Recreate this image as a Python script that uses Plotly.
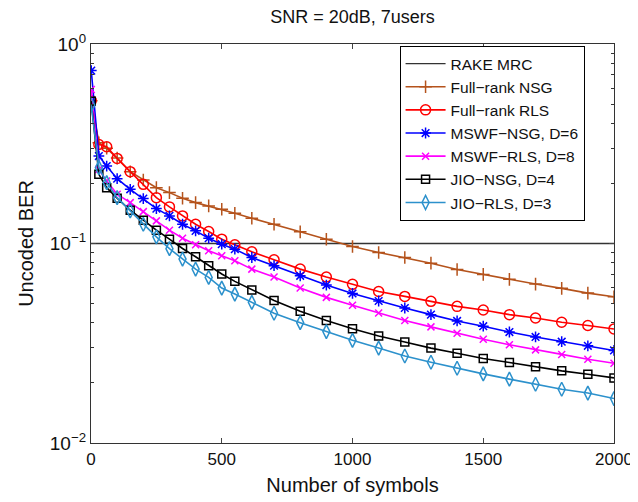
import plotly.graph_objects as go

symbols = [1, 30, 60, 100, 150, 200, 250, 300, 350, 400, 450, 500, 550, 615, 700,
           800, 900, 1000, 1100, 1200, 1300, 1400, 1500, 1600, 1700, 1800, 1900, 2000]

rake_mrc = 0.1

full_rank_nsg = [0.52, 0.32, 0.30, 0.268, 0.229, 0.208, 0.1905, 0.1799, 0.1685, 0.1603, 0.1543,
                 0.1485, 0.1418, 0.1338, 0.1249, 0.1144, 0.1051, 0.0966, 0.0902, 0.0851, 0.0797,
                 0.0741, 0.0700, 0.0661, 0.0626, 0.0596, 0.0564, 0.0541]
full_rank_rls = [0.5206, 0.3137, 0.3055, 0.267, 0.2291, 0.198, 0.1698, 0.1526, 0.1375, 0.1249,
                 0.1148, 0.1051, 0.0985, 0.0908, 0.0829, 0.0744, 0.0679, 0.0624, 0.0575, 0.0543,
                 0.0513, 0.0484, 0.0464, 0.0440, 0.0423, 0.0403, 0.0388, 0.0373]
mswf_nsg = [0.7356, 0.2744, 0.2445, 0.2113, 0.1869, 0.1679, 0.1496, 0.1375, 0.1249, 0.1157,
            0.1063, 0.0992, 0.0937, 0.0851, 0.0774, 0.0689, 0.0619, 0.0562, 0.0515, 0.0475,
            0.0440, 0.0409, 0.0385, 0.0360, 0.0340, 0.0322, 0.0307, 0.0291]
mswf_rls = [0.591, 0.2353, 0.2057, 0.1765, 0.1603, 0.1445, 0.1298, 0.1166, 0.1063, 0.0985,
            0.0919, 0.0868, 0.0819, 0.0744, 0.0679, 0.0598, 0.0537, 0.0490, 0.0448, 0.0411,
            0.0382, 0.0355, 0.0331, 0.0311, 0.0293, 0.0278, 0.0263, 0.0251]
jio_nsg = [0.517, 0.2221, 0.1905, 0.1685, 0.1468, 0.1308, 0.1166, 0.1051, 0.0944, 0.0858,
           0.0774, 0.0703, 0.0646, 0.0585, 0.0518, 0.0457, 0.0411, 0.0374, 0.0344, 0.0321,
           0.0299, 0.0282, 0.0265, 0.0253, 0.0241, 0.0230, 0.0221, 0.0212]
jio_rls = [0.4936, 0.2399, 0.2018, 0.1698, 0.1457, 0.1249, 0.108, 0.0942, 0.0835, 0.0744,
           0.0676, 0.0598, 0.0558, 0.0507, 0.0447, 0.0401, 0.0362, 0.0327, 0.0299, 0.0273,
           0.0254, 0.0237, 0.0222, 0.0209, 0.0197, 0.0186, 0.0178, 0.0167]

x_ticks = [0, 500, 1000, 1500, 2000]
y_ticks = [0.01, 0.1, 1]
y_tick_labels = ["10<sup>\u22122</sup>", "10<sup>\u22121</sup>", "10<sup>0</sup>"]

series = [
    ("Full\u2212rank NSG", full_rank_nsg, "#B5531C", "cross-thin-open", 9),
    ("Full\u2212rank RLS", full_rank_rls, "#FF0000", "circle-open", 10),
    ("MSWF\u2212NSG, D=6", mswf_nsg, "#0000FF", "asterisk-open", 9),
    ("MSWF\u2212RLS, D=8", mswf_rls, "#FF00FF", "x-thin-open", 7),
    ("JIO\u2212NSG, D=4", jio_nsg, "#000000", "square-open", 8),
    ("JIO\u2212RLS, D=3", jio_rls, "#2C91CC", "diamond-tall-open", 10),
]

font = "Arial, Liberation Sans, Helvetica, sans-serif"

fig = go.Figure()
fig.add_trace(go.Scatter(
    x=[0, 2000], y=[rake_mrc, rake_mrc], mode="lines", name="RAKE MRC",
    line=dict(color="#333333", width=1.3)))
for name, vals, color, sym, size in series:
    fig.add_trace(go.Scatter(
        x=symbols, y=vals, mode="lines+markers", name=name,
        line=dict(color=color, width=1.6),
        marker=dict(symbol=sym, size=size, color=color, line=dict(color=color, width=1.5))))

minor_vals = [k * 10 ** e for e in (-2, -1) for k in range(2, 10)]

fig.update_layout(
    width=638, height=502,
    margin=dict(l=83, r=32, t=36, b=67),
    paper_bgcolor="white", plot_bgcolor="white",
    font=dict(family=font, size=17, color="#111111"),
    title=dict(text="SNR = 20dB, 7users", x=0.54, xanchor="center", y=0.983, yanchor="middle",
               font=dict(size=18, color="#111111")),
    showlegend=True,
    legend=dict(x=0.59, y=0.995, xanchor="left", yanchor="top",
                bordercolor="#000000", borderwidth=1, bgcolor="white",
                font=dict(size=15.5), tracegroupgap=0, itemwidth=40),
    xaxis=dict(range=[0, 2000], tickvals=x_ticks, ticks="inside", ticklen=5,
               tickfont=dict(size=17),
               showline=True, linecolor="#333333", linewidth=1.2, mirror="ticks",
               showgrid=False, zeroline=False,
               title=dict(text="Number of symbols", font=dict(size=20), standoff=10)),
    yaxis=dict(type="log", range=[-2, 0], tickvals=y_ticks, ticktext=y_tick_labels,
               ticks="inside", ticklen=5, tickfont=dict(size=19),
               showline=True, linecolor="#333333", linewidth=1.2, mirror="ticks",
               showgrid=False, zeroline=False,
               minor=dict(tickvals=minor_vals, ticks="inside", ticklen=3, showgrid=False,
                          tickcolor="#333333"),
               title=dict(text="Uncoded BER", font=dict(size=20), standoff=10)),
)

fig.write_html("out.html")
